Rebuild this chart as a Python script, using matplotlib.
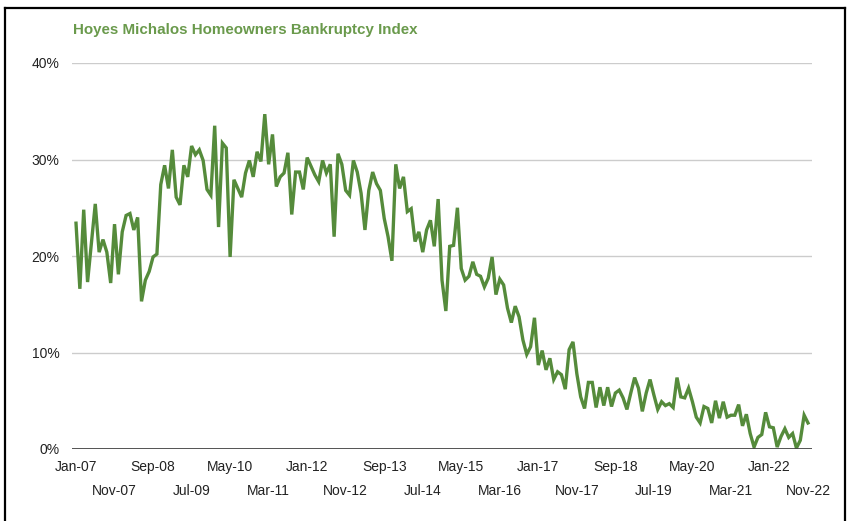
import matplotlib
matplotlib.use("Agg")
import matplotlib.pyplot as plt
from matplotlib.lines import Line2D
from matplotlib.ticker import FixedLocator, PercentFormatter

# ====================================
# DATOS (mensual, ene-2007 a nov-2022)
# ====================================

start_year = 2007
start_month = 1

index_pct = [
    23.4, 16.6, 24.8, 17.3, 21.3, 25.4, 20.4, 21.7, 20.4, 17.2,
    23.3, 18.1, 22.5, 24.2, 24.4, 22.7, 24.0, 15.3, 17.5, 18.4,
    19.9, 20.2, 27.4, 29.4, 27.0, 31.0, 26.1, 25.3, 29.4, 28.2,
    31.4, 30.5, 31.0, 29.9, 26.9, 26.3, 33.5, 23.0, 31.7, 31.2,
    19.9, 27.9, 27.0, 26.1, 28.6, 29.9, 28.2, 30.8, 29.8, 34.7,
    29.5, 32.6, 27.2, 28.2, 28.6, 30.7, 24.3, 28.7, 28.7, 26.9,
    30.2, 29.3, 28.4, 27.7, 29.9, 28.6, 29.5, 22.0, 30.6, 29.5,
    26.8, 26.3, 29.9, 28.7, 26.5, 22.7, 26.8, 28.7, 27.5, 26.8,
    23.9, 22.0, 19.5, 29.5, 27.0, 28.2, 24.6, 24.9, 21.5, 22.5,
    20.4, 22.7, 23.7, 21.0, 25.9, 17.5, 14.3, 21.0, 21.1, 25.0,
    18.7, 17.5, 17.9, 19.4, 18.1, 17.9, 16.8, 17.7, 19.9, 16.0,
    17.6, 17.0, 14.6, 13.1, 14.8, 13.7, 11.3, 9.8, 10.6, 13.6,
    8.7, 10.2, 8.2, 9.4, 7.2, 8.0, 7.7, 6.2, 10.3, 11.1,
    7.8, 5.4, 4.2, 6.9, 6.9, 4.3, 6.4, 4.5, 6.4, 4.4,
    5.8, 6.1, 5.3, 4.1, 5.8, 7.4, 6.3, 3.9, 5.8, 7.2,
    5.6, 4.1, 4.9, 4.5, 4.7, 4.3, 7.4, 5.4, 5.3, 6.3,
    4.9, 3.3, 2.7, 4.4, 4.2, 2.7, 5.0, 3.2, 4.9, 3.3,
    3.5, 3.5, 4.6, 2.4, 3.6, 1.6, 0.2, 1.2, 1.5, 3.8,
    2.3, 2.2, 0.2, 1.3, 2.1, 1.2, 1.6, 0.1, 0.9, 3.5,
    2.7,
]

month_names = ["Jan", "Feb", "Mar", "Apr", "May", "Jun",
               "Jul", "Aug", "Sep", "Oct", "Nov", "Dec"]

tick_step = 10

# ====================================
# GRÁFICA
# ====================================

plt.rcParams["font.family"] = ["Liberation Sans", "DejaVu Sans"]

n = len(index_pct)
x = list(range(n))


def month_label(i):
    m = start_month - 1 + i
    return f"{month_names[m % 12]}-{(start_year + m // 12) % 100:02d}"


fig = plt.figure(figsize=(8.48, 5.21), dpi=100)
ax = fig.add_axes([72 / 848, 1 - 449 / 521, 740 / 848, 386 / 521])

ax.plot(x, index_pct, color="#558b3b", linewidth=2.4, solid_joinstyle="miter")

ax.set_xlim(-1.04, n - 1 + 1.04)
ax.set_ylim(0, 40)

ax.set_yticks([0, 10, 20, 30, 40])
ax.yaxis.set_major_formatter(PercentFormatter(decimals=0))
ax.grid(axis="y", color="#cccccc", linewidth=1)
ax.set_axisbelow(True)
ax.axhline(0, color="#444444", linewidth=2, zorder=3)

ticks_top = list(range(0, n, 2 * tick_step))
ticks_bottom = list(range(tick_step, n, 2 * tick_step))
ax.set_xticks(ticks_top)
ax.set_xticklabels([month_label(i) for i in ticks_top])
ax.xaxis.set_minor_locator(FixedLocator(ticks_bottom))
ax.set_xticks(ticks_bottom, [month_label(i) for i in ticks_bottom], minor=True)

ax.tick_params(axis="x", which="major", length=0, pad=8, labelsize=10, labelcolor="#222222")
ax.tick_params(axis="x", which="minor", length=0, pad=25, labelsize=10, labelcolor="#222222")
ax.tick_params(axis="y", length=0, pad=9, labelsize=10, labelcolor="#222222")

for s in ax.spines.values():
    s.set_visible(False)

fig.text(73 / 848, 1 - 30 / 521, "Hoyes Michalos Homeowners Bankruptcy Index",
         color="#6a9a4c", fontsize=10.9, fontweight="bold", va="center", ha="left")

# marco negro
bx0, bx1, by0 = 5 / 848, 845 / 848, 1 - 8 / 521
fig.add_artist(Line2D([bx0, bx0], [0, by0], color="black", linewidth=1.6))
fig.add_artist(Line2D([bx0, bx1], [by0, by0], color="black", linewidth=1.6))
fig.add_artist(Line2D([bx1, bx1], [0, by0], color="black", linewidth=1.6))

fig.savefig("out.png", dpi=100)
